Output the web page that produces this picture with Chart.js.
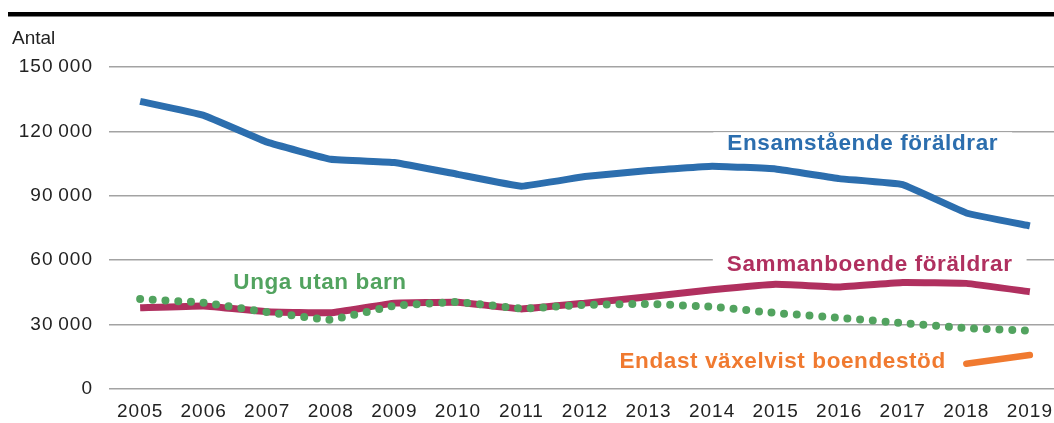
<!DOCTYPE html>
<html>
<head>
<meta charset="utf-8">
<script src="https://cdn.jsdelivr.net/npm/chart.js@4"></script>
<style>
  html, body { margin: 0; padding: 0; background: #fff; }
  #wrap { width: 1054px; height: 423px; position: relative; }
</style>
</head>
<body>
<div id="wrap"><canvas id="c"></canvas></div>
<script>
const years = [2005, 2006, 2007, 2008, 2009, 2010, 2011, 2012, 2013, 2014, 2015, 2016, 2017, 2018, 2019];

const ensamstaende = [134000, 127500, 115000, 107000, 105500, 100000, 94500, 99000, 101800, 103800, 102500, 98000, 95200, 82000, 76000];
const sammanboende = [37800, 38700, 36000, 35500, 40000, 40400, 37300, 40000, 43000, 46200, 48800, 47500, 49600, 49200, 45300];
const ungaUtanBarn = [41900, 40200, 35800, 32300, 38800, 40500, 37500, 39200, 39600, 38300, 35400, 33200, 30700, 28400, 27200];
const endastVaxelvist = [null, null, null, null, null, null, null, null, null, null, null, null, null, 11800, 15800];

const yTicks = [0, 30000, 60000, 90000, 120000, 150000];

const BLUE = '#2c6eae';
const PURPLE = '#b0305f';
const GREEN = '#52a35f';
const ORANGE = '#f07a30';
const TEXT = '#222222';
const GRID = '#a3a3a3';
const FONT = '"Liberation Sans", Arial, Helvetica, sans-serif';

// series names placed next to the lines (data coords)
const seriesLabels = [
  { text: 'Ensamstående föräldrar', x: 2016.37, y: 114000, color: BLUE, box: true },
  { text: 'Sammanboende föräldrar', x: 2016.48, y: 57800, color: PURPLE, box: true },
  { text: 'Unga utan barn', x: 2007.83, y: 49400, color: GREEN, box: false },
  { text: 'Endast växelvist boendestöd', x: 2015.11, y: 12600, color: ORANGE, box: false }
];

const pts = vals => years.map((yr, i) => ({ x: yr, y: vals[i] }));

const decor = {
  id: 'decor',
  beforeDraw(chart) {
    const ctx = chart.ctx;
    ctx.save();
    ctx.fillStyle = '#000';
    ctx.fillRect(8, 12, chart.width - 8, 4.5);
    ctx.fillStyle = TEXT;
    ctx.font = '19px ' + FONT;
    ctx.textAlign = 'left';
    ctx.textBaseline = 'alphabetic';
    ctx.fillText('Antal', 12, 44);
    ctx.restore();
    ctx.letterSpacing = '1px';
  },
  afterDatasetsDraw(chart) {
    const ctx = chart.ctx;
    const xs = chart.scales.x, ys = chart.scales.y;
    ctx.save();
    ctx.letterSpacing = '0.6px';
    ctx.font = 'bold 22.5px ' + FONT;
    ctx.textAlign = 'center';
    ctx.textBaseline = 'middle';
    seriesLabels.forEach(l => {
      const px = xs.getPixelForValue(l.x);
      const py = ys.getPixelForValue(l.y);
      const w = ctx.measureText(l.text).width;
      if (l.box) {
        ctx.fillStyle = '#fff';
        ctx.fillRect(px - w / 2 - 14, py - 12, w + 28, 22);
      }
      ctx.fillStyle = l.color;
      ctx.fillText(l.text, px, py);
    });
    ctx.restore();
  }
};

new Chart(document.getElementById('c'), {
  type: 'line',
  data: {
    datasets: [
      { label: 'Ensamstående föräldrar', data: pts(ensamstaende), borderColor: BLUE, borderWidth: 7, tension: 0.08 },
      { label: 'Unga utan barn', data: pts(ungaUtanBarn), borderColor: GREEN, borderWidth: 8, tension: 0.08,
        borderDash: [0, 12.7], borderCapStyle: 'round' },
      { label: 'Sammanboende föräldrar', data: pts(sammanboende), borderColor: PURPLE, borderWidth: 7, tension: 0.08 },
      { label: 'Endast växelvist boendestöd', data: pts(endastVaxelvist), borderColor: ORANGE, borderWidth: 6.5,
        borderCapStyle: 'round', tension: 0 }
    ]
  },
  options: {
    responsive: true,
    maintainAspectRatio: false,
    animation: false,
    devicePixelRatio: 1,
    layout: { padding: { top: 67, right: 0, bottom: 0, left: 0 } },
    elements: { point: { radius: 0, hoverRadius: 0 } },
    plugins: { legend: { display: false }, tooltip: { enabled: false } },
    scales: {
      x: {
        type: 'linear',
        min: 2004.51,
        max: 2019.38,
        afterBuildTicks: axis => { axis.ticks = years.map(v => ({ value: v })); },
        afterFit: axis => {
          axis.height = 34;
          axis.paddingLeft = 0;
          axis.paddingRight = 0;
        },
        grid: { display: false, drawTicks: false },
        border: { display: false },
        ticks: {
          color: TEXT,
          font: { family: FONT, size: 19 },
          padding: 11,
          maxRotation: 0,
          autoSkip: false,
          callback: v => String(v)
        }
      },
      y: {
        min: 0,
        max: 150000,
        afterBuildTicks: axis => { axis.ticks = yTicks.map(v => ({ value: v })); },
        afterFit: axis => { axis.width = 109; },
        grid: { color: GRID, lineWidth: 1.5, drawTicks: false },
        border: { display: false },
        ticks: {
          color: TEXT,
          font: { family: FONT, size: 19 },
          padding: 16,
          callback: v => String(v).replace(/\B(?=(\d{3})+(?!\d))/g, '\u2009')
        }
      }
    }
  },
  plugins: [decor]
});
</script>
</body>
</html>
